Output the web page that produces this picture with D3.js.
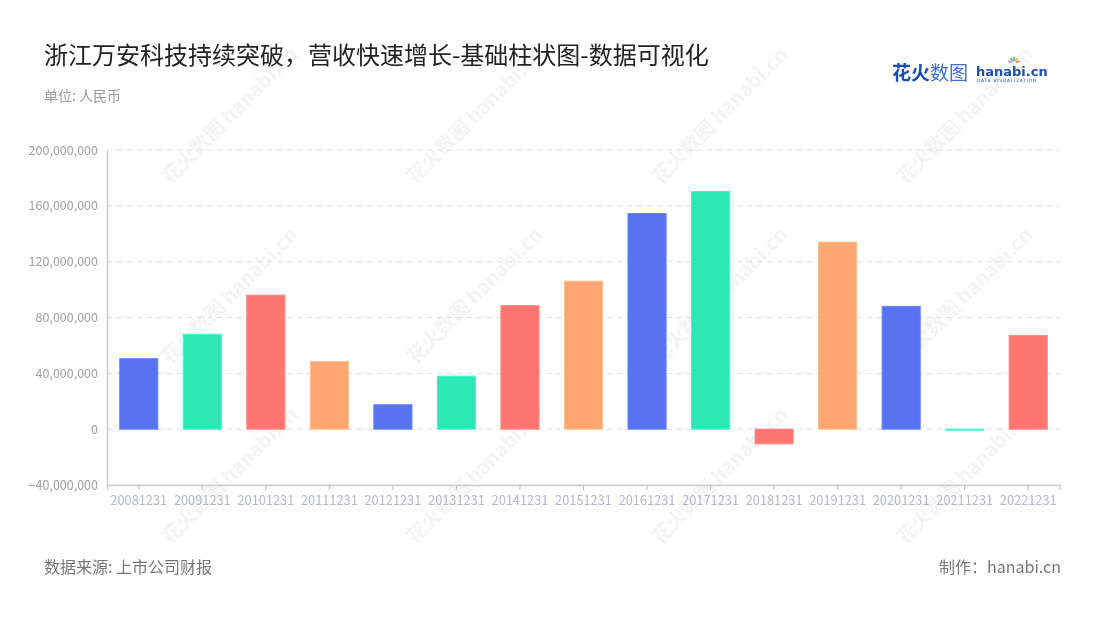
<!DOCTYPE html>
<html><head><meta charset="utf-8">
<script src="https://cdn.jsdelivr.net/npm/d3@7/dist/d3.min.js"></script>
<style>body{margin:0;background:#fff;font-family:"Noto Sans CJK SC","Noto Sans",sans-serif;}</style>
</head><body><svg id="c" width="1100" height="620"></svg>
<script>
const categories = ["20081231","20091231","20101231","20111231","20121231","20131231","20141231","20151231","20161231","20171231","20181231","20191231","20201231","20211231","20221231"];
const values = [50500000,68000000,96000000,48500000,17500000,38000000,88500000,106000000,154500000,170300000,-10500000,134000000,88000000,-600000,67200000];
const yTicks = [-40000000,0,40000000,80000000,120000000,160000000,200000000];
const palette = ["#5872f0","#2de8b4","#ff7670","#ffa673"];

(function(){
const svg = d3.select("#c");
const F = "'Noto Sans CJK SC','Noto Sans',sans-serif";
const pL = 107, pR = 1060, pT = 150, pB = 485;

// watermarks
const wm = svg.append("g").attr("opacity", 0.05);
for (let r = 0; r < 3; r++) for (let c = 0; c < 4; c++) {
  const x = 170 + c * 245, y = 185 + r * 180;
  const g = wm.append("g").attr("transform", `translate(${x},${y}) rotate(-45)`);
  g.append("text").attr("font-family", F).attr("font-size", 20).attr("font-weight", 700).attr("fill", "#000").text("花火数图 hanabi.cn");
}

const y = d3.scaleLinear().domain([-40000000, 200000000]).range([pB, pT]);
const x = d3.scaleBand().domain(categories).range([pL, pR]).paddingInner(0.4).paddingOuter(0.2);

// grid
svg.append("g").selectAll("line").data(yTicks).join("line")
  .attr("x1", pL).attr("x2", pR).attr("y1", d => y(d)).attr("y2", d => y(d))
  .attr("stroke", "#e0e0e0").attr("stroke-dasharray", "5,5").attr("stroke-width", 1);

// y axis
const ya = svg.append("g").attr("transform", `translate(${pL},0)`)
  .call(d3.axisLeft(y).tickValues(yTicks).tickSize(0).tickPadding(9).tickFormat(d3.format(",")));
ya.select(".domain").attr("stroke", "#cccccc").attr("stroke-width", 1.5);
ya.selectAll("text").attr("fill", "#a0a0a0").attr("font-size", 12.5).attr("font-family", F);

// bars
svg.append("g").selectAll("rect").data(values).join("rect")
  .attr("x", (d, i) => x(categories[i]))
  .attr("width", x.bandwidth())
  .attr("y", d => y(Math.max(0, d)))
  .attr("height", d => Math.max(1, Math.abs(y(d) - y(0))))
  .attr("fill", (d, i) => palette[i % 4])
  .attr("stroke", (d, i) => d3.color(palette[i % 4]).brighter(0.4))
  .attr("stroke-width", 1);

// x axis
const xa = svg.append("g").attr("transform", `translate(0,${pB})`)
  .call(d3.axisBottom(x).tickSize(5).tickPadding(6));
xa.select(".domain").attr("stroke", "#cccccc").attr("stroke-width", 1.5);
xa.selectAll(".tick line").attr("stroke", "#bbbbbb");
xa.selectAll("text").attr("fill", "#b4b8c6").attr("font-size", 12.8).attr("font-family", F);

// title
svg.append("text").attr("x", 44).attr("y", 64).attr("font-family", F).attr("font-size", 24).attr("fill", "#222").text("浙江万安科技持续突破，营收快速增长-基础柱状图-数据可视化");
svg.append("text").attr("x", 44).attr("y", 101).attr("font-family", F).attr("font-size", 14).attr("fill", "#999").text("单位: 人民币");

// footer
svg.append("text").attr("x", 44).attr("y", 573).attr("font-family", F).attr("font-size", 16).attr("fill", "#777").text("数据来源: 上市公司财报");
svg.append("text").attr("x", 1061).attr("y", 573).attr("text-anchor", "end").attr("font-family", F).attr("font-size", 16).attr("fill", "#777").text("制作：hanabi.cn");

// logo
svg.append("text").attr("x", 892).attr("y", 80).attr("font-family", F).attr("font-size", 19).attr("font-weight", 700).attr("fill", "#1e4fa8").text("花火");
svg.append("text").attr("x", 930).attr("y", 80).attr("font-family", F).attr("font-size", 19).attr("fill", "#3a6fd0").text("数图");
svg.append("text").attr("x", 976).attr("y", 76).attr("font-family", "'DejaVu Sans',sans-serif").attr("font-size", 13).attr("font-weight", 700).attr("fill", "#1e4fa8").text("hanabi.cn");
svg.append("text").attr("x", 977).attr("y", 82).attr("font-family", "'DejaVu Sans',sans-serif").attr("font-size", 4.5).attr("fill", "#1e4fa8").attr("letter-spacing", 0.7).text("DATA VISUALIZATION");
const burst = ["#ff5a5a","#ffb400","#30c060","#29a8ff","#b070ff"];
burst.forEach((c, i) => {
  const a = -Math.PI * (0.1 + i * 0.2);
  svg.append("line").attr("x1", 1014 + Math.cos(a) * 2).attr("y1", 63 + Math.sin(a) * 2)
    .attr("x2", 1014 + Math.cos(a) * 6).attr("y2", 63 + Math.sin(a) * 6).attr("stroke", c).attr("stroke-width", 1.5);
});
})();
</script></body></html>
